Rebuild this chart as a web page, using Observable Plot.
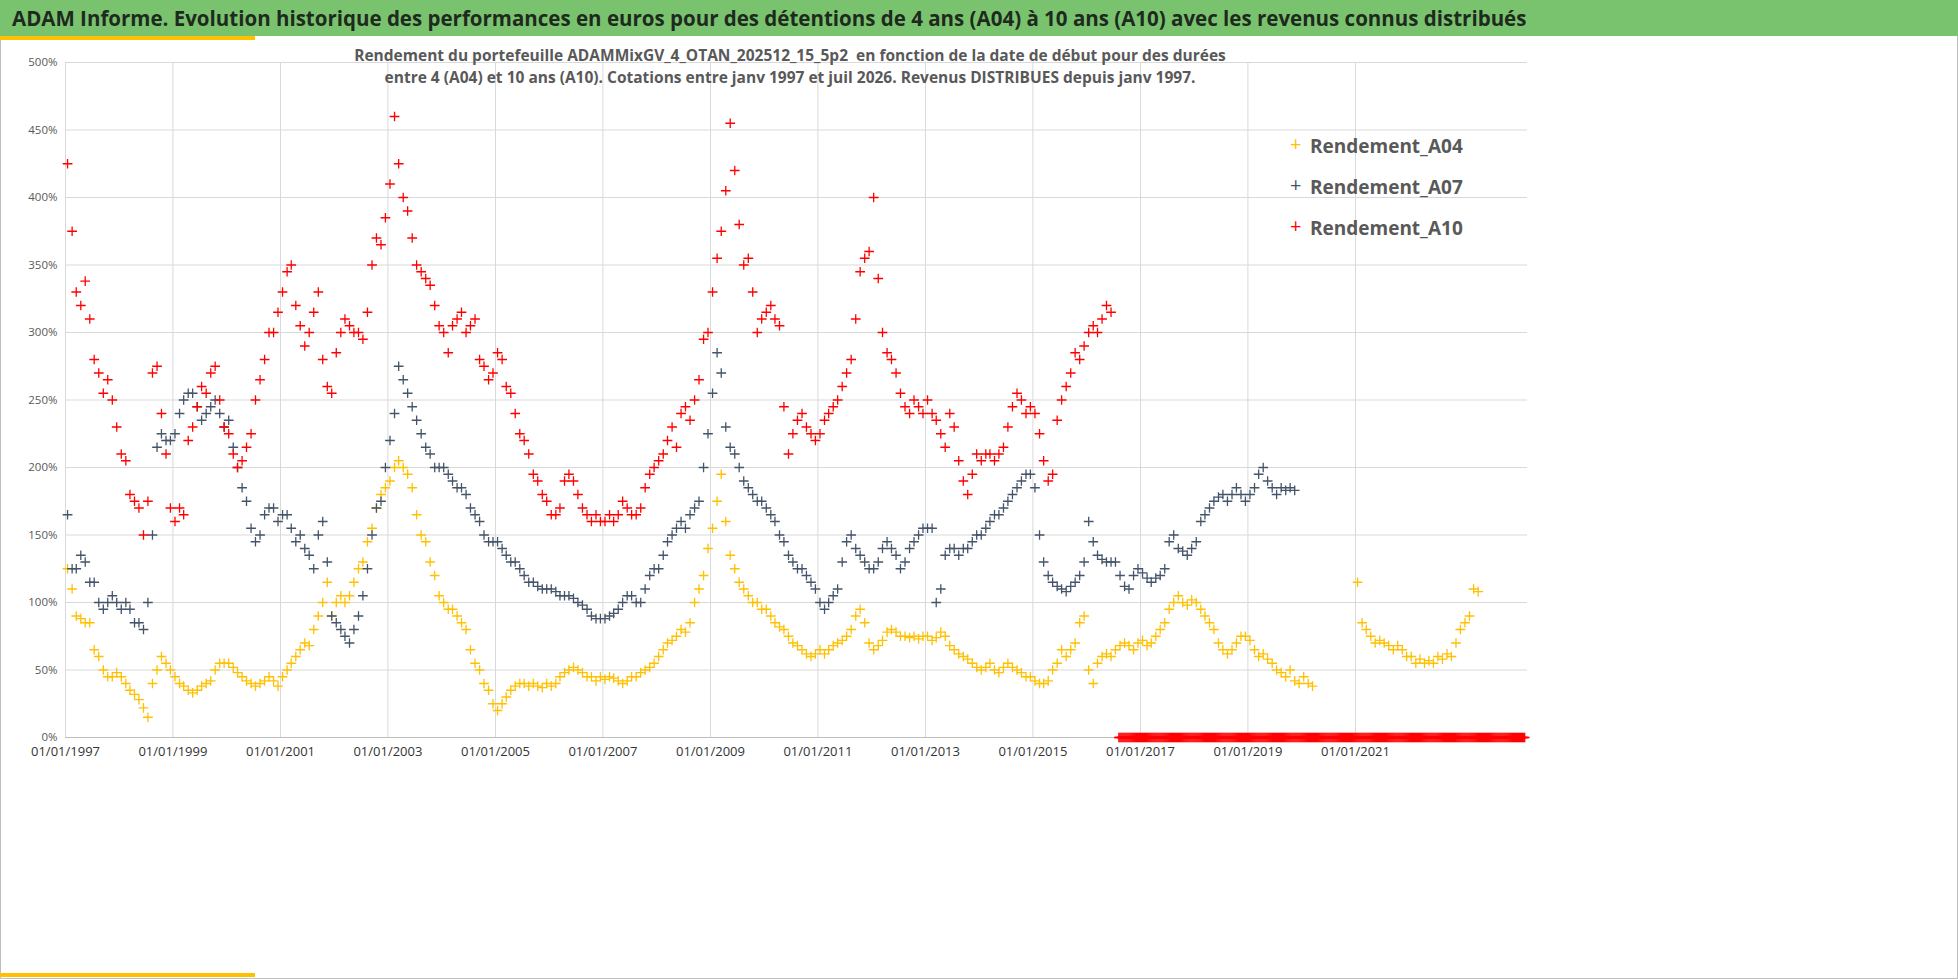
<!DOCTYPE html>
<html><head><meta charset="utf-8">
<script src="https://cdn.jsdelivr.net/npm/d3@7"></script>
<script src="https://cdn.jsdelivr.net/npm/@observablehq/plot@0.6"></script>
<style>
body{margin:0;width:1958px;height:979px;position:relative;background:#fff;font-family:"Open Sans","Noto Sans",sans-serif;overflow:hidden}
#banner{position:absolute;left:0;top:0;width:1958px;height:36px;background:#7ac36e;color:#1e2a1e;font-weight:bold;font-size:20.5px;line-height:36px;padding-left:12px;box-sizing:border-box}
.ybar{position:absolute;left:0;width:255px;height:4px;background:#ffc000}
#sub{position:absolute;left:0;width:1580px;top:44px;text-align:center;color:#595959;font-weight:bold;font-size:15.5px;line-height:22px}
#chart{position:absolute;left:0;top:40px}
#legend{position:absolute;left:1290px;top:133px;color:#595959;font-weight:bold;font-size:19px}
#legend div{height:41px;position:relative;padding-left:20px}
#legend span{position:absolute;left:0;top:-3px;font-weight:normal;font-size:20px}
#frame{position:absolute;left:0;top:0;width:1956px;height:977px;border:1px solid #bfbfbf}
</style></head><body>
<div id="frame"></div>
<div id="banner">ADAM Informe. Evolution historique des performances en euros pour des détentions de 4 ans (A04) à 10 ans (A10) avec les revenus connus distribués</div>
<div class="ybar" style="top:36px"></div>
<div class="ybar" style="top:973px"></div>
<div id="chart"></div>
<div id="sub">Rendement du portefeuille ADAMMixGV_4_OTAN_202512_15_5p2&nbsp; en fonction de la date de début pour des durées<br>entre 4 (A04) et 10 ans (A10). Cotations entre janv 1997 et juil 2026. Revenus DISTRIBUES depuis janv 1997.</div>
<div id="legend">
<div><span style="color:#ffc000">+</span>Rendement_A04</div>
<div><span style="color:#44546a">+</span>Rendement_A07</div>
<div><span style="color:#ff0000">+</span>Rendement_A10</div>
</div>
<script>
const seriesNames = ["Rendement_A04","Rendement_A07","Rendement_A10"];
const seriesColors = ["#ffc000","#44546a","#ff0000"];
const startDate = "1997-01-01";
// monthly values (%) from Jan 1997
const a04 = [
125,110,90,88,85,85,65,60,50,45,45,48,
45,40,35,32,28,22,15,40,50,60,55,50,
45,40,38,35,33,35,38,40,42,50,55,55,
55,52,48,45,42,40,38,40,42,45,42,38,
45,50,55,60,65,70,68,80,90,100,115,90,
100,105,100,105,115,125,130,145,155,170,180,185,
190,200,205,200,195,185,165,150,145,130,120,105,
100,95,95,90,85,80,65,55,50,40,35,25,
20,25,30,35,38,40,40,38,40,38,37,40,
38,40,45,48,50,52,50,48,45,45,42,45,
43,45,44,42,40,42,45,45,48,50,52,55,
60,65,70,72,75,80,78,85,100,110,120,140,
155,175,195,160,135,125,115,110,105,100,100,95,
95,90,85,82,80,75,70,68,65,62,60,62,
65,62,65,68,70,72,75,80,90,95,85,70,
65,68,72,78,80,78,75,75,74,75,73,75,
75,72,74,78,75,68,65,62,60,58,55,52,
50,52,55,50,48,52,55,52,50,48,45,45,
42,40,40,42,50,55,65,60,65,70,85,90,
50,40,55,60,62,60,65,68,70,68,65,70,
72,68,70,75,80,85,95,100,105,100,98,102,
100,95,90,85,80,70,65,62,65,70,75,75,
72,65,60,62,58,55,50,48,45,50,42,40,
45,40,38,null,null,null,null,null,null,null,null,null,
115,85,80,75,70,72,70,68,65,68,65,60,
60,55,58,55,57,55,60,58,62,60,70,80,
85,90,110,108];
const a07 = [
165,125,125,135,130,115,115,100,95,100,105,100,
95,100,95,85,85,80,100,150,215,225,220,220,
225,240,250,255,255,245,235,240,245,250,240,230,
235,215,200,185,175,155,145,150,165,170,170,160,
165,165,155,145,150,140,135,125,150,160,130,90,
85,80,75,70,80,90,105,125,150,170,175,200,
220,240,275,265,255,245,235,225,215,210,200,200,
200,195,190,185,185,180,170,165,160,150,145,145,
145,140,135,130,130,125,120,115,115,112,110,110,
110,108,105,105,105,103,100,98,95,90,88,88,
88,90,92,95,100,105,105,100,100,110,120,125,
125,135,145,150,155,160,155,165,170,175,200,225,
255,285,270,230,215,210,200,190,185,180,175,175,
170,165,160,150,145,135,130,125,125,120,115,110,
100,95,100,105,110,130,145,150,140,135,130,125,
125,130,140,145,140,135,125,130,140,145,150,155,
155,155,100,110,135,140,140,135,140,140,145,150,
150,155,160,165,165,170,175,180,185,190,195,195,
185,150,130,120,115,112,110,108,112,115,120,130,
160,145,135,132,130,130,130,120,112,110,120,125,
122,118,115,118,120,125,145,150,140,138,135,140,
145,160,165,170,175,178,180,175,180,185,180,175,
180,185,195,200,190,185,180,185,183,185,183];
const a10 = [
425,375,330,320,338,310,280,270,255,265,250,230,
210,205,180,175,170,150,175,270,275,240,210,170,
160,170,165,220,230,245,260,255,270,275,250,230,
225,210,200,205,215,225,250,265,280,300,300,315,
330,345,350,320,305,290,300,315,330,280,260,255,
285,300,310,305,300,300,295,315,350,370,365,385,
410,460,425,400,390,370,350,345,340,335,320,305,
300,285,305,310,315,300,305,310,280,275,265,270,
285,280,260,255,240,225,220,210,195,190,180,175,
165,165,170,190,195,190,180,170,165,160,165,160,
160,165,160,165,175,170,165,165,170,185,195,200,
205,210,220,230,215,240,245,235,250,265,295,300,
330,355,375,405,455,420,380,350,355,330,300,310,
315,320,310,305,245,210,225,235,240,230,225,220,
225,235,240,245,250,260,270,280,310,345,355,360,
400,340,300,285,280,270,255,245,240,250,245,240,
250,240,235,225,215,240,230,205,190,180,195,210,
205,210,210,205,210,215,230,245,255,250,240,245,
240,225,205,190,195,235,250,260,270,285,280,290,
300,305,300,310,320,315];
// A10 reported as 0 after its last valid start date
const zeroStart = "2016-08-01", zeroEnd = "2024-03-01";

const s0 = new Date(startDate);
const rows = [];
[a04,a07,a10].forEach((arr,k)=>arr.forEach((v,i)=>{
  if(v!=null) rows.push({date:d3.utcDay.offset(d3.utcMonth.offset(s0,i),14),value:v/100,series:seriesNames[k]});
}));
d3.utcWeek.range(new Date(zeroStart),new Date(zeroEnd)).forEach(d=>rows.push({date:d,value:0,series:"Rendement_A10"}));

const cross = {draw(ctx,size){const r=Math.sqrt(size)/2;ctx.moveTo(-r,0);ctx.lineTo(r,0);ctx.moveTo(0,-r);ctx.lineTo(0,r);}};
const xTicks = d3.range(1997,2023,2).map(y=>new Date(Date.UTC(y,0,1)));

const chart = Plot.plot({
  width:1958, height:730,
  marginLeft:65, marginRight:431, marginTop:22, marginBottom:33,
  x:{type:"utc",domain:[new Date("1997-01-01"),new Date("2024-03-15")],ticks:xTicks,tickFormat:d3.utcFormat("%d/%m/%Y"),tickSize:0,label:null,grid:false},
  y:{domain:[0,5],ticks:d3.range(0,5.01,0.5),tickFormat:d=>Math.round(d*100)+"%",tickSize:0,tickPadding:8,label:null},
  color:{domain:seriesNames,range:seriesColors},
  style:{fontFamily:"Open Sans, Noto Sans, sans-serif",fontSize:"11.5px",color:"#595959",background:"transparent"},
  marks:[
    Plot.gridY(d3.range(0,5.01,0.5),{stroke:"#d9d9d9",strokeOpacity:1}),
    Plot.gridX(xTicks,{stroke:"#d9d9d9",strokeOpacity:1}),
    Plot.ruleY([0],{stroke:"#bfbfbf"}),
    Plot.axisX({ticks:xTicks,tickFormat:d3.utcFormat("%d/%m/%Y"),tickSize:0,tickPadding:9,fontSize:13,fill:"#333"}),
    Plot.dot(rows,{x:"date",y:"value",stroke:"series",symbol:cross,r:5.5,strokeWidth:1.3,fill:"none"})
  ]
});
document.getElementById("chart").appendChild(chart);
</script>
</body></html>
